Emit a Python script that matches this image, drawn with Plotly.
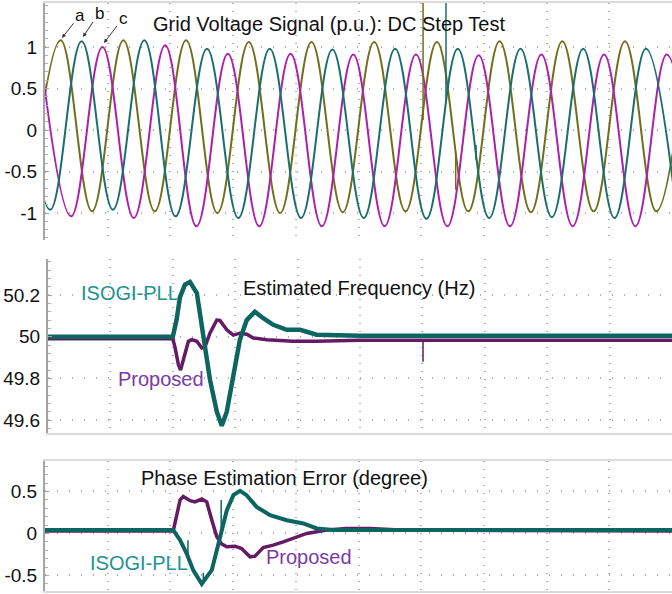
import plotly.graph_objects as go

# ---------------- DATA (time in ms, 20 ms per division) ----------------
# Panel 1: grid voltage, successive peak/trough values of each phase (p.u.)
a_t = [-5, 5, 15, 25, 35, 45, 55, 65, 75, 85, 95, 105, 115, 125, 135, 145, 155, 165, 175, 185, 195, 205]
a_v = [-0.98, 1.08, -0.98, 1.08, -0.98, 1.08, -1.0, 1.06, -1.0, 1.06, -0.99, 1.06, -0.98, 1.06,
       -0.98, 1.07, -0.99, 1.07, -0.98, 1.07, -0.98, 1.07]
b_t = [-8.33, 1.67, 11.67, 21.67, 31.67, 41.67, 51.67, 61.67, 71.67, 81.67, 91.67, 101.67, 111.67,
       121.67, 131.67, 141.67, 151.67, 161.67, 171.67, 181.67, 191.67, 201.67]
b_v = [1.07, -0.96, 1.07, -0.96, 1.08, -1.04, 0.98, -1.06, 0.98, -1.06, 0.97, -1.06, 0.98, -1.07,
       0.98, -1.06, 0.98, -1.05, 0.98, -1.06, 0.98, -1.06]
c_t = [-1.67, 8.33, 18.33, 28.33, 38.33, 48.33, 58.33, 68.33, 78.33, 88.33, 98.33, 108.33, 118.33,
       128.33, 138.33, 148.33, 158.33, 168.33, 178.33, 188.33, 198.33, 208.33]
c_v = [1.0, -1.04, 1.0, -1.06, 1.02, -1.16, 0.92, -1.16, 0.92, -1.16, 0.91, -1.16, 0.91, -1.16,
       0.90, -1.16, 0.91, -1.16, 0.91, -1.16, 0.91, -1.16]
# glitches on the voltage traces: time, from, to
a_glitch_t = [120.6, 131.0]
a_glitch_lo = [0.12, -0.72]
a_glitch_hi = [1.55, -0.26]
b_glitch_t = [127.9, 137.5]
b_glitch_lo = [0.36, -0.36]
b_glitch_hi = [1.55, -0.18]

# Panel 2: estimated frequency (Hz)
iso_f_t = [0, 40.0, 41.2, 42.3, 43.9, 45.5, 47.7, 49.8, 51.9, 54.1, 55.7, 57.3, 59.4, 61.5, 63.7,
           66.3, 69.0, 72.2, 76.5, 80.8, 86.1, 100, 200]
iso_f_v = [50.0, 50.0, 50.08, 50.19, 50.25, 50.263, 50.21, 50.0, 49.795, 49.64, 49.573, 49.64,
           49.81, 49.985, 50.08, 50.12, 50.089, 50.057, 50.033, 50.033, 50.01, 50.005, 50.005]
prop_f_t = [0, 40.0, 40.7, 41.8, 42.5, 43.4, 45.0, 46.1, 47.7, 49.3, 50.3, 51.9, 54.1, 55.1, 57.3,
            59.4, 61.5, 63.7, 65.8, 70.1, 78.5, 86.1, 100, 200]
prop_f_v = [49.99, 49.99, 49.95, 49.865, 49.84, 49.89, 49.978, 49.986, 49.978, 49.946, 49.95,
            50.017, 50.08, 50.078, 50.033, 50.008, 50.017, 50.012, 49.994, 49.986, 49.978, 49.978,
            49.983, 49.983]
prop_f_glitch_t = [120.2]
prop_f_glitch_lo = [49.88]
prop_f_glitch_hi = [49.985]

# Panel 3: phase estimation error (degree)
iso_p_t = [0, 40.9, 43.1, 45.2, 47.3, 48.9, 50.0, 51.6, 53.2, 54.8, 55.8, 58.0, 60.1, 62.2, 64.3,
           67.5, 71.8, 77.1, 82.4, 86.7, 92.0, 200]
iso_p_v = [0.04, 0.04, -0.08, -0.24, -0.44, -0.536, -0.60, -0.517, -0.437, -0.2, -0.04, 0.277,
           0.456, 0.507, 0.456, 0.317, 0.218, 0.158, 0.119, 0.06, 0.04, 0.04]
prop_p_t = [0, 40.9, 43.1, 44.1, 46.3, 47.8, 50.0, 51.6, 53.2, 54.8, 56.4, 58.0, 60.6, 62.7, 65.4,
            67.0, 69.6, 72.8, 76.0, 79.2, 83.5, 89.9, 96.2, 103.7, 113.2, 200]
prop_p_v = [0.03, 0.03, 0.40, 0.44, 0.39, 0.375, 0.41, 0.375, 0.16, -0.04, -0.127, -0.159, -0.151,
            -0.179, -0.278, -0.27, -0.167, -0.139, -0.1, -0.06, 0.0, 0.04, 0.06, 0.06, 0.04, 0.03]
iso_p_glitch_t = [45.6, 50.5, 56.2]
iso_p_glitch_lo = [-0.32, -0.6, -0.04]
iso_p_glitch_hi = [-0.08, -0.47, 0.40]

# tick labels
v_ticks = [-1, -0.5, 0, 0.5, 1]
v_ticktext = ["-1", "-0.5", "0", "0.5", "1"]
f_ticks = [49.6, 49.8, 50, 50.2]
f_ticktext = ["49.6", "49.8", "50", "50.2"]
p_ticks = [-0.5, 0, 0.5]
p_ticktext = ["-0.5", "0", "0.5"]

# ---------------- STYLE ----------------
FONT = "Liberation Sans, Arial, sans-serif"
C_OLIVE = "#6f6f1c"
C_TEAL = "#1a6f6d"
C_MAG = "#ad1fad"
C_TEAL2 = "#0d6561"
C_PURP = "#641a64"
C_TEAL_TXT = "#23948c"
C_PURP_TXT = "#7b3aa8"
GRID = "#b0b0b0"
W, H = 672, 594

fig = go.Figure()


def add(x, y, color, width, xa, ya, shape="linear", smoothing=1.0):
    fig.add_trace(go.Scatter(x=x, y=y, mode="lines",
                             line=dict(color=color, width=width, shape=shape, smoothing=smoothing),
                             xaxis=xa, yaxis=ya, hoverinfo="skip", showlegend=False))


def glitches(ts, los, his):
    xs, ys = [], []
    for t, lo, hi in zip(ts, los, his):
        xs += [t, t, None]
        ys += [lo, hi, None]
    return xs, ys


# panel 1
add(a_t, a_v, C_OLIVE, 2, "x", "y", "spline", 1.1)
add(c_t, c_v, C_MAG, 2, "x", "y", "spline", 1.1)
add(b_t, b_v, C_TEAL, 2, "x", "y", "spline", 1.1)
gx, gy = glitches(a_glitch_t, a_glitch_lo, a_glitch_hi)
add(gx, gy, C_OLIVE, 1.5, "x", "y")
gx, gy = glitches(b_glitch_t, b_glitch_lo, b_glitch_hi)
add(gx, gy, C_TEAL, 1.5, "x", "y")

# panel 2
add(prop_f_t, prop_f_v, C_PURP, 3.5, "x2", "y2")
gx, gy = glitches(prop_f_glitch_t, prop_f_glitch_lo, prop_f_glitch_hi)
add(gx, gy, C_PURP, 1.5, "x2", "y2")
add(iso_f_t, iso_f_v, C_TEAL2, 4.5, "x2", "y2")

# panel 3
add(prop_p_t, prop_p_v, C_PURP, 3.5, "x3", "y3")
add(iso_p_t, iso_p_v, C_TEAL2, 4, "x3", "y3")
gx, gy = glitches(iso_p_glitch_t, iso_p_glitch_lo, iso_p_glitch_hi)
add(gx, gy, C_TEAL2, 1.5, "x3", "y3")


def px_y(y0, y1):
    return [1 - y1 / H, 1 - y0 / H]


xcommon = dict(range=[0, 200], tick0=0, dtick=20, showticklabels=False, ticks="",
               showgrid=True, gridcolor=GRID, griddash="1px,7px", gridwidth=1.5,
               zeroline=False, showline=True, linecolor="#dcdcdc", linewidth=1.5)
ycommon = dict(showgrid=True, gridcolor=GRID, griddash="1px,11px", gridwidth=1.5,
               zeroline=False, showline=True, linecolor="#a3a3a3", linewidth=2,
               ticks="inside", ticklen=4, tickcolor="#a3a3a3", tickwidth=1,
               tickfont=dict(family=FONT, size=19, color="#111111"),
               ticklabelstandoff=2)

fig.update_layout(
    width=W, height=H, margin=dict(l=0, r=0, t=0, b=0),
    paper_bgcolor="white", plot_bgcolor="white",
    xaxis=dict(xcommon, domain=[45 / W, 1], anchor="y", side="top"),
    xaxis2=dict(xcommon, domain=[48 / W, 1], anchor="y2"),
    xaxis3=dict(xcommon, domain=[45 / W, 1], anchor="y3", mirror=True),
    yaxis=dict(ycommon, domain=px_y(3, 240), anchor="x", range=[-1.325, 1.53],
               tickvals=v_ticks, ticktext=v_ticktext,
               minor=dict(ticks="inside", ticklen=3, tickcolor="#b0b0b0", dtick=0.1, showgrid=False)),
    yaxis2=dict(ycommon, domain=px_y(259, 433), anchor="x2", range=[49.538, 50.373],
                tickvals=f_ticks, ticktext=f_ticktext,
                minor=dict(ticks="inside", ticklen=3, tickcolor="#b0b0b0", dtick=0.04, showgrid=False)),
    yaxis3=dict(ycommon, domain=px_y(461, 591), anchor="x3", range=[-0.685, 0.863],
                tickvals=p_ticks, ticktext=p_ticktext,
                minor=dict(ticks="inside", ticklen=3, tickcolor="#b0b0b0", dtick=0.1, showgrid=False)),
)

texts = [
    ("Grid Voltage Signal (p.u.): DC Step Test", 151, 24, "#111111"),
    ("Estimated Frequency (Hz)", 241, 288, "#111111"),
    ("Phase Estimation Error (degree)", 139, 478, "#111111"),
    ("ISOGI-PLL", 79, 293, C_TEAL_TXT),
    ("Proposed", 116, 379, C_PURP_TXT),
    ("ISOGI-PLL", 88, 563, C_TEAL_TXT),
    ("Proposed", 264, 557, C_PURP_TXT),
]
for txt, x, y, col in texts:
    fig.add_annotation(text=txt, x=x / W, y=1 - y / H, xref="paper", yref="paper",
                       xanchor="left", yanchor="middle", showarrow=False,
                       font=dict(family=FONT, size=20, color=col))

for lab, tipx, tipy, ax, ay in [("a", 62, 38, 18, -23), ("b", 83, 37, 16, -24), ("c", 104, 43, 19, -25)]:
    fig.add_annotation(text=lab, x=tipx / W, y=1 - tipy / H, xref="paper", yref="paper",
                       showarrow=True, ax=ax, ay=ay, arrowhead=2, arrowsize=0.8, arrowwidth=1,
                       arrowcolor="#333333", standoff=0, startstandoff=0,
                       font=dict(family=FONT, size=17, color="#111111"))

fig.write_html("out.html")
